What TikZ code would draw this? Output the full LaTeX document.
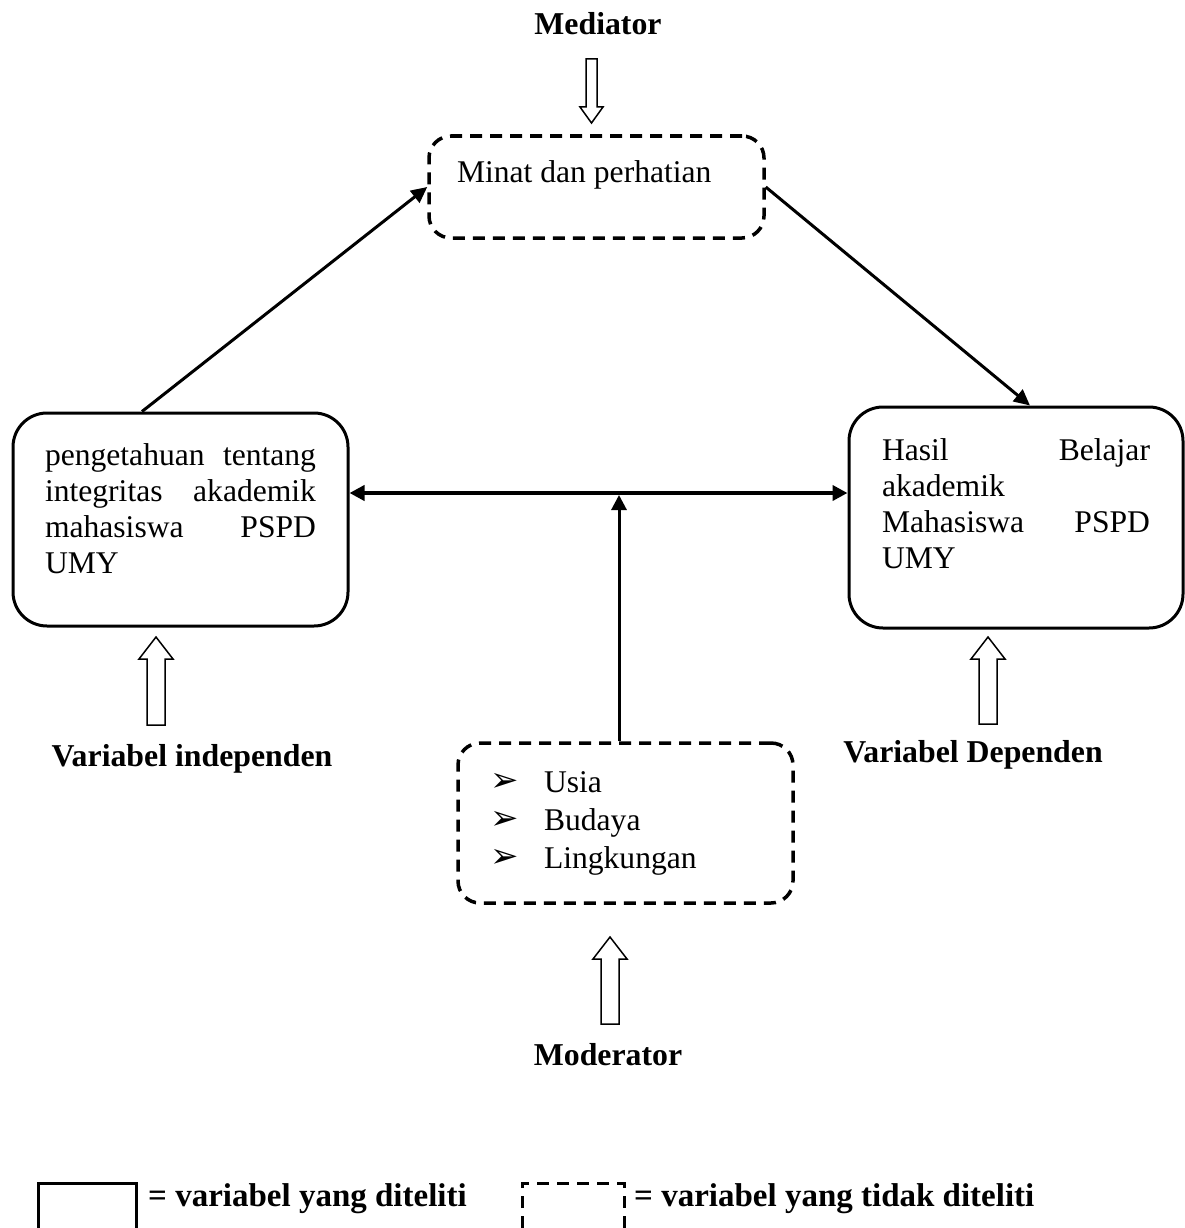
\documentclass[tikz,border=0pt]{standalone}
\usepackage{fontspec}
\setmainfont{Liberation Serif}
\newfontfamily\dejavu{DejaVu Sans}
\usetikzlibrary{arrows.meta,calc}

% bullet of the moderator list
\newcommand\poin{\makebox[54pt][l]{\raisebox{1pt}{\dejavu\fontsize{34}{34}\selectfont ➢}}}

\begin{document}
\begin{tikzpicture}[x=1pt,y=-1pt,
    every node/.style={font=\fontsize{31.6}{36}\selectfont},
    diteliti/.style={draw, line width=3pt, rounded corners=34pt, inner sep=0pt},
    tidakditeliti/.style={draw, line width=3.5pt, dash pattern=on 12pt off 8pt, rounded corners=22pt, inner sep=0pt},
    judul/.style={font=\fontsize{31.8}{36}\selectfont\bfseries, anchor=base},
    hollow/.style={draw, line width=1.5pt, fill=white},
    panah/.style={line width=3pt, -{Triangle[length=16pt,width=15pt]}}
  ]
\useasboundingbox (0,0) rectangle (1184,1228);

% Variabel yang diteliti (solid boxes)
\node[diteliti, minimum width=335pt, minimum height=213pt] (indep) at (180.5,519.5)
  {\parbox[c][159pt][t]{271pt}{\strut pengetahuan\hfill tentang\\ integritas\hfill akademik\\ mahasiswa\hfill PSPD\\ UMY}};
\node[diteliti, minimum width=334pt, minimum height=221pt] (dep) at (1016,517.5)
  {\parbox[c][165pt][t]{268pt}{\strut Hasil\hfill Belajar\\ akademik\\ Mahasiswa\hfill PSPD\\ UMY}};

% Variabel yang tidak diteliti (dashed boxes)
\node[tidakditeliti, minimum width=335pt, minimum height=102pt] (mediasi) at (596.5,187)
  {\parbox[c][60pt][t]{279pt}{\strut Minat dan perhatian}};
\node[tidakditeliti, minimum width=335pt, minimum height=160pt] (moder) at (625.5,823)
  {\parbox[c][115pt][t]{271pt}{\fontsize{31.6}{38}\selectfont\strut\poin Usia\\ \poin Budaya\\ \poin Lingkungan}};

% Labels
\node[judul] (lblmediator) at (598,35) {Mediator};
\node[judul] (lblindep) at (192,766) {Variabel independen};
\node[judul] (lbldep) at (973,762) {Variabel Dependen};
\node[judul] (lblmoder) at (608,1065) {Moderator};

% Hollow arrows pointing at the boxes
\draw[hollow] (586,59) -- (586,107) -- (580,107) -- (591.5,123) -- (603,107) -- (597,107) -- (597,59) -- cycle;
\foreach \ax/\atip/\abot in {156/637/725, 988/637/724, 610/937/1024}
  \draw[hollow] (\ax-9,\abot) -- (\ax-9,\atip+22) -- (\ax-17,\atip+22) -- (\ax,\atip)
    -- (\ax+17,\atip+22) -- (\ax+9,\atip+22) -- (\ax+9,\abot) -- cycle;

% Connectors
\coordinate (simpang) at (619,493);
\draw[panah] ($(indep.north)+(-38.5,0)$) -- (mediasi.west);
\draw[panah] (mediasi.east) -- ($(dep.north)+(14,0)$);
\draw[line width=4pt, {Triangle[length=15pt,width=15pt]}-{Triangle[length=15pt,width=15pt]}]
  (indep.east |- simpang) -- (dep.west |- simpang);
\draw[line width=3pt, -{Triangle[length=15pt,width=15pt]}] (moder.north -| simpang) -- ([yshift=-2pt]simpang);

% Legend
\draw[line width=3pt] (38,1228) -- (38,1183) -- (136,1183) -- (136,1228);
\draw[line width=3pt, dash pattern=on 12pt off 8pt] (522,1228) -- (522,1183) -- (624,1183) -- (624,1228);
\node[judul, anchor=base west, inner sep=0pt, font=\fontsize{33}{36}\selectfont\bfseries] (ketditeliti) at (148,1206) {= variabel yang diteliti};
\node[judul, anchor=base west, inner sep=0pt, font=\fontsize{33}{36}\selectfont\bfseries] (kettidak) at (634,1206) {= variabel yang tidak diteliti};
\end{tikzpicture}
\end{document}
